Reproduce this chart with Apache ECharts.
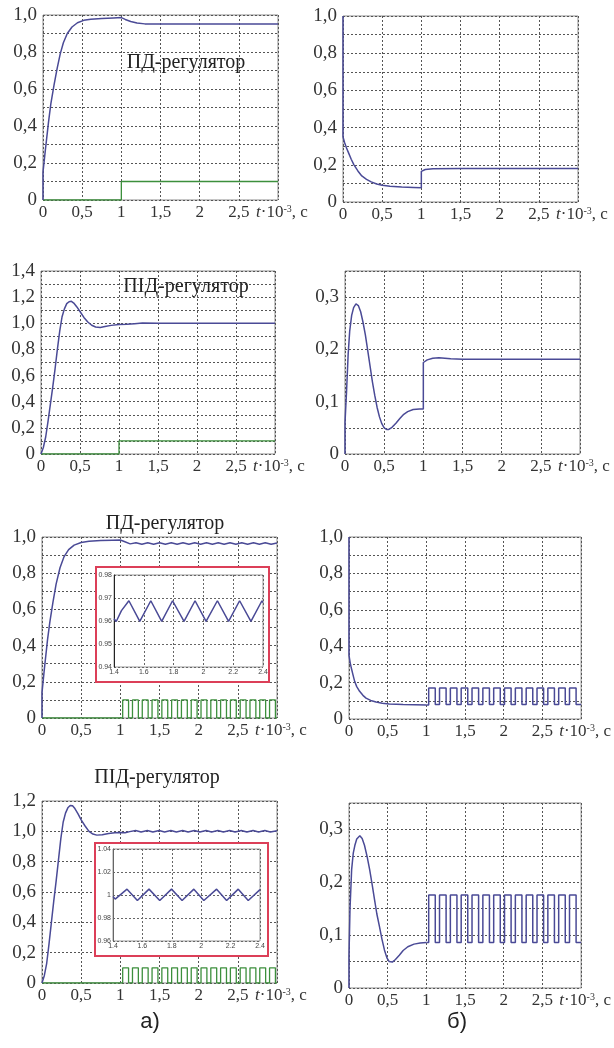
<!DOCTYPE html>
<html>
<head>
<meta charset="utf-8">
<script src="https://cdn.jsdelivr.net/npm/echarts@6.0.0/dist/echarts.min.js"></script>
<style>
html, body { margin: 0; background: #fff; }
#chart { width: 614px; height: 1048px; }
</style>
</head>
<body>
<div id="chart"></div>
<script>
// ---- data (t in ms) ----
const xTickLabels = ['0', '0,5', '1', '1,5', '2', '2,5'];
const titles = ['ПД-регулятор', 'ПІД-регулятор', 'ПД-регулятор', 'ПІД-регулятор'];

const stepIn = [[0, 0], [1, 0], [1, 0.1], [3, 0.1]];

const pdStepOut = [[0, 0], [0, 0.15], [0.03, 0.27], [0.07, 0.42], [0.1, 0.52], [0.14, 0.62], [0.18, 0.71], [0.22, 0.79], [0.26, 0.85], [0.31, 0.9], [0.37, 0.935], [0.44, 0.958], [0.52, 0.971], [0.61, 0.977], [0.75, 0.981], [0.9, 0.984], [1, 0.986], [1.05, 0.976], [1.12, 0.965], [1.2, 0.957], [1.3, 0.952], [1.5, 0.951], [3, 0.951]];

const pdStepCtl = [[0, 1], [0, 0.35], [0.02, 0.32], [0.045, 0.29], [0.075, 0.26], [0.105, 0.23], [0.14, 0.2], [0.19, 0.167], [0.24, 0.14], [0.3, 0.122], [0.36, 0.108], [0.43, 0.097], [0.5, 0.09], [0.6, 0.085], [0.75, 0.081], [0.9, 0.078], [1, 0.076], [1, 0.165], [1.05, 0.175], [1.15, 0.179], [1.5, 0.18], [3, 0.18]];

const pidStepOut = [[0, 0], [0.03, 0.05], [0.06, 0.13], [0.09, 0.25], [0.12, 0.38], [0.15, 0.51], [0.18, 0.65], [0.21, 0.8], [0.24, 0.94], [0.27, 1.05], [0.3, 1.11], [0.33, 1.15], [0.36, 1.165], [0.39, 1.168], [0.42, 1.155], [0.46, 1.125], [0.5, 1.09], [0.55, 1.045], [0.6, 1.01], [0.65, 0.985], [0.7, 0.972], [0.76, 0.968], [0.82, 0.975], [0.9, 0.984], [1, 0.99], [1.1, 0.992], [1.2, 0.997], [1.3, 1.002], [1.5, 1], [3, 1]];

const pidStepCtl = [[0, 0], [0, 0.06], [0.02, 0.12], [0.04, 0.19], [0.06, 0.235], [0.085, 0.265], [0.11, 0.28], [0.14, 0.287], [0.17, 0.284], [0.2, 0.272], [0.23, 0.252], [0.26, 0.228], [0.29, 0.198], [0.32, 0.168], [0.35, 0.138], [0.38, 0.112], [0.41, 0.089], [0.44, 0.071], [0.47, 0.058], [0.5, 0.05], [0.53, 0.047], [0.56, 0.047], [0.6, 0.051], [0.65, 0.059], [0.7, 0.068], [0.75, 0.076], [0.8, 0.081], [0.87, 0.085], [0.95, 0.086], [1, 0.086], [1, 0.175], [1.05, 0.18], [1.12, 0.183], [1.2, 0.184], [1.35, 0.182], [1.5, 0.181], [3, 0.181]];

// pulse input: [time of edge, new level]
const pulseIn = [[0, 0], [1.03, 0.1], [1.105, 0], [1.155, 0.1], [1.23, 0], [1.28, 0.1], [1.355, 0], [1.405, 0.1], [1.48, 0], [1.53, 0.1], [1.605, 0], [1.655, 0.1], [1.73, 0], [1.78, 0.1], [1.855, 0], [1.905, 0.1], [1.98, 0], [2.03, 0.1], [2.105, 0], [2.155, 0.1], [2.23, 0], [2.28, 0.1], [2.355, 0], [2.405, 0.1], [2.48, 0], [2.53, 0.1], [2.605, 0], [2.655, 0.1], [2.73, 0], [2.78, 0.1], [2.855, 0], [2.905, 0.1], [2.98, 0], [3, 0]];

const pdPulseOut = [[0, 0], [0, 0.14], [0.03, 0.27], [0.07, 0.43], [0.1, 0.53], [0.14, 0.64], [0.18, 0.74], [0.23, 0.83], [0.28, 0.89], [0.34, 0.93], [0.41, 0.955], [0.5, 0.97], [0.6, 0.977], [0.75, 0.98], [0.9, 0.982], [1, 0.983], [1.05, 0.975], [1.125, 0.962], [1.2, 0.968], [1.275, 0.96], [1.35, 0.968], [1.425, 0.96], [1.5, 0.968], [1.575, 0.96], [1.65, 0.968], [1.725, 0.96], [1.8, 0.968], [1.875, 0.96], [1.95, 0.968], [2.025, 0.96], [2.1, 0.968], [2.175, 0.96], [2.25, 0.968], [2.325, 0.96], [2.4, 0.968], [2.475, 0.96], [2.55, 0.968], [2.625, 0.96], [2.7, 0.968], [2.775, 0.96], [2.85, 0.968], [2.925, 0.96], [3, 0.967]];

const pdPulseCtl = [[0, 1], [0, 0.35], [0.015, 0.31], [0.03, 0.28], [0.05, 0.245], [0.073, 0.207], [0.1, 0.178], [0.137, 0.152], [0.18, 0.13], [0.22, 0.115], [0.28, 0.102], [0.35, 0.093], [0.43, 0.087], [0.52, 0.082], [0.7, 0.079], [1, 0.077]];
const pdPulseSteps = [[1, 0.077], [1.03, 0.17], [1.115, 0.079], [1.17, 0.17], [1.255, 0.079], [1.31, 0.17], [1.395, 0.079], [1.45, 0.17], [1.535, 0.079], [1.59, 0.17], [1.675, 0.079], [1.73, 0.17], [1.815, 0.079], [1.87, 0.17], [1.955, 0.079], [2.01, 0.17], [2.095, 0.079], [2.15, 0.17], [2.235, 0.079], [2.29, 0.17], [2.375, 0.079], [2.43, 0.17], [2.515, 0.079], [2.57, 0.17], [2.655, 0.079], [2.71, 0.17], [2.795, 0.079], [2.85, 0.17], [2.935, 0.079], [3, 0.079]];

const pidPulseOut = [[0, 0], [0.03, 0.05], [0.06, 0.13], [0.09, 0.26], [0.12, 0.4], [0.15, 0.54], [0.18, 0.67], [0.21, 0.81], [0.24, 0.95], [0.27, 1.06], [0.3, 1.12], [0.33, 1.155], [0.36, 1.17], [0.39, 1.168], [0.42, 1.15], [0.46, 1.115], [0.5, 1.075], [0.55, 1.035], [0.6, 1], [0.65, 0.982], [0.7, 0.975], [0.77, 0.977], [0.85, 0.985], [0.93, 0.99], [1, 0.992], [1.06, 0.99], [1.12, 0.998], [1.195, 1.005], [1.265, 0.995], [1.345, 1.005], [1.415, 0.995], [1.495, 1.005], [1.565, 0.995], [1.645, 1.005], [1.715, 0.995], [1.795, 1.005], [1.865, 0.995], [1.945, 1.005], [2.015, 0.995], [2.095, 1.005], [2.165, 0.995], [2.245, 1.005], [2.315, 0.995], [2.395, 1.005], [2.465, 0.995], [2.545, 1.005], [2.615, 0.995], [2.695, 1.005], [2.765, 0.995], [2.845, 1.005], [2.915, 0.995], [3, 1.004]];

const pidPulseCtl = [[0, 0], [0, 0.06], [0.013, 0.15], [0.034, 0.224], [0.055, 0.255], [0.076, 0.27], [0.1, 0.282], [0.14, 0.288], [0.17, 0.283], [0.2, 0.27], [0.235, 0.248], [0.267, 0.224], [0.3, 0.195], [0.33, 0.167], [0.36, 0.14], [0.394, 0.116], [0.425, 0.093], [0.458, 0.072], [0.49, 0.057], [0.52, 0.05], [0.56, 0.049], [0.6, 0.054], [0.65, 0.062], [0.7, 0.071], [0.76, 0.078], [0.84, 0.083], [0.92, 0.085], [1, 0.086]];
const pidPulseSteps = [[1, 0.086], [1.03, 0.176], [1.115, 0.086], [1.17, 0.176], [1.255, 0.086], [1.31, 0.176], [1.395, 0.086], [1.45, 0.176], [1.535, 0.086], [1.59, 0.176], [1.675, 0.086], [1.73, 0.176], [1.815, 0.086], [1.87, 0.176], [1.955, 0.086], [2.01, 0.176], [2.095, 0.086], [2.15, 0.176], [2.235, 0.086], [2.29, 0.176], [2.375, 0.086], [2.43, 0.176], [2.515, 0.086], [2.57, 0.176], [2.655, 0.086], [2.71, 0.176], [2.795, 0.086], [2.85, 0.176], [2.935, 0.086], [3, 0.086]];

// zoomed insets 1.4..2.4
const pdZoom = [[1.4, 0.961], [1.415, 0.9598], [1.45, 0.9645], [1.5, 0.9688], [1.573, 0.9598], [1.647, 0.9688], [1.72, 0.9598], [1.793, 0.9688], [1.87, 0.9598], [1.944, 0.9688], [2.018, 0.9598], [2.094, 0.9688], [2.169, 0.9598], [2.243, 0.9688], [2.319, 0.9598], [2.393, 0.9688], [2.4, 0.968]];
const pidZoom = [[1.4, 0.9987], [1.415, 0.9964], [1.4955, 1.0051], [1.566, 0.9952], [1.645, 1.0051], [1.718, 0.9952], [1.798, 1.0051], [1.87, 0.9952], [1.95, 1.0051], [2.018, 0.9952], [2.105, 1.0051], [2.173, 0.9952], [2.252, 1.0051], [2.32, 0.9952], [2.4, 1.0047]];

// ---- layout ----
const serif = "'Liberation Serif', 'Times New Roman', serif";
const sans = "'Liberation Sans', Arial, sans-serif";
const BLUE = '#4a4a96';
const GREEN = '#3c8f3c';

// [left, top, width, height]
const panelBoxes = [
    [43, 15, 235, 185], [343, 16, 235, 186],
    [41, 271, 234, 183], [345, 271, 235, 183],
    [42, 537, 235, 181], [349, 537, 234, 182],
    [42, 801, 235, 182], [349, 803, 234, 185]
];
// y axis: [max, grid step, label step]
const panelY = [
    [1, 0.1, 0.2], [1, 0.1, 0.2],
    [1.4, 0.1, 0.2], [0.35, 0.05, 0.1],
    [1, 0.1, 0.2], [1, 0.1, 0.2],
    [1.2, 0.2, 0.2], [0.35, 0.05, 0.1]
];
const insetBoxes = [[114, 575, 149, 92], [113, 849, 147, 92]];
const insetFrames = [[96, 567, 173, 115], [95, 843, 173, 113]];
const insetY = [[0.94, 0.98, 0.01], [0.96, 1.04, 0.02]];

const grids = [];
const xAxes = [];
const yAxes = [];

panelBoxes.forEach(function (b, i) {
    grids.push({ left: b[0], top: b[1], width: b[2], height: b[3], show: true, borderColor: '#8c8c8c', borderWidth: 1 });
    xAxes.push({
        type: 'value', gridIndex: i, min: 0, max: 3, interval: 0.5,
        axisLine: { show: false }, axisTick: { show: false },
        splitLine: { lineStyle: { color: '#555', type: [2, 2], width: 1 } },
        axisLabel: {
            margin: 4, fontFamily: serif, fontSize: 17, color: '#333',
            formatter: function (v) {
                if (Math.abs(v - 3) < 1e-6) return '{g| }{t|t}·10{s|-3}, с';
                return xTickLabels[Math.round(v / 0.5)];
            },
            rich: {
                g: { width: 8 },
                t: { fontStyle: 'italic', fontFamily: serif, fontSize: 17, color: '#333' },
                s: { fontFamily: serif, fontSize: 10, color: '#333', verticalAlign: 'top' }
            }
        }
    });
    const ys = panelY[i];
    yAxes.push({
        type: 'value', gridIndex: i, min: 0, max: ys[0], interval: ys[1],
        axisLine: { show: false }, axisTick: { show: false },
        splitLine: { lineStyle: { color: '#555', type: [2, 2], width: 1 } },
        axisLabel: {
            margin: 6, fontFamily: serif, fontSize: 19, color: '#333',
            formatter: function (v) {
                const k = v / ys[2];
                if (Math.abs(k - Math.round(k)) > 1e-6) return '';
                if (Math.abs(v) < 1e-9) return '0';
                return v.toFixed(1).replace('.', ',');
            }
        }
    });
});

insetBoxes.forEach(function (b, j) {
    const gi = panelBoxes.length + j;
    const iy = insetY[j];
    grids.push({ left: b[0], top: b[1], width: b[2], height: b[3], show: true, borderColor: '#999', borderWidth: 1, z: 30 });
    xAxes.push({
        type: 'value', gridIndex: gi, min: 1.4, max: 2.4, interval: 0.2, z: 30,
        axisLine: { show: false }, axisTick: { show: false },
        splitLine: { lineStyle: { color: '#666', type: [2, 2], width: 1 } },
        axisLabel: { margin: 2, fontFamily: sans, fontSize: 7, color: '#444', formatter: function (v) { return String(+v.toFixed(1)); } }
    });
    yAxes.push({
        type: 'value', gridIndex: gi, min: iy[0], max: iy[1], interval: iy[2], z: 30,
        axisLine: { show: true, onZero: false, lineStyle: { color: j === 0 ? '#222' : '#666', width: 1 } },
        axisTick: { show: false },
        splitLine: { lineStyle: { color: '#666', type: [2, 2], width: 1 } },
        axisLabel: { margin: 2, fontFamily: sans, fontSize: 7, color: '#444', formatter: function (v) { return String(+v.toFixed(2)); } }
    });
});

function line(gi, data, color, step, z) {
    return {
        type: 'line', xAxisIndex: gi, yAxisIndex: gi, data: data,
        step: step || false, symbol: 'none', showSymbol: false, silent: true,
        lineStyle: { color: color, width: color === GREEN ? 1.3 : 1.5 },
        z: z || 2
    };
}

const series = [
    line(0, stepIn, GREEN), line(0, pdStepOut, BLUE),
    line(1, pdStepCtl, BLUE),
    line(2, stepIn, GREEN), line(2, pidStepOut, BLUE),
    line(3, pidStepCtl, BLUE),
    line(4, pulseIn, GREEN, 'end'), line(4, pdPulseOut, BLUE),
    line(5, pdPulseCtl, BLUE), line(5, pdPulseSteps, BLUE, 'end'),
    line(6, pulseIn, GREEN, 'end'), line(6, pidPulseOut, BLUE),
    line(7, pidPulseCtl, BLUE), line(7, pidPulseSteps, BLUE, 'end'),
    line(8, pdZoom, BLUE, false, 31), line(9, pidZoom, BLUE, false, 31)
];

// titles and frames
const graphics = [];
insetFrames.forEach(function (f) {
    graphics.push({ type: 'rect', z: 20, shape: { x: f[0], y: f[1], width: f[2], height: f[3] }, style: { fill: '#fff', stroke: '#dc3f58', lineWidth: 2 } });
});
const titlePos = [[186, 63], [186, 287], [165, 524], [157, 778]];
titles.forEach(function (t, i) {
    graphics.push({ type: 'text', z: 40, x: titlePos[i][0], y: titlePos[i][1], style: { text: t, fontFamily: serif, fontSize: 20, fill: '#222', align: 'center', verticalAlign: 'middle' } });
});
graphics.push({ type: 'text', z: 40, x: 150, y: 1022, style: { text: 'а)', fontFamily: sans, fontSize: 22, fill: '#222', align: 'center', verticalAlign: 'middle' } });
graphics.push({ type: 'text', z: 40, x: 457, y: 1022, style: { text: 'б)', fontFamily: sans, fontSize: 22, fill: '#222', align: 'center', verticalAlign: 'middle' } });

const chart = echarts.init(document.getElementById('chart'));
chart.setOption({
    animation: false,
    backgroundColor: '#fff',
    grid: grids,
    xAxis: xAxes,
    yAxis: yAxes,
    series: series,
    graphic: { elements: graphics }
});
</script>
</body>
</html>
